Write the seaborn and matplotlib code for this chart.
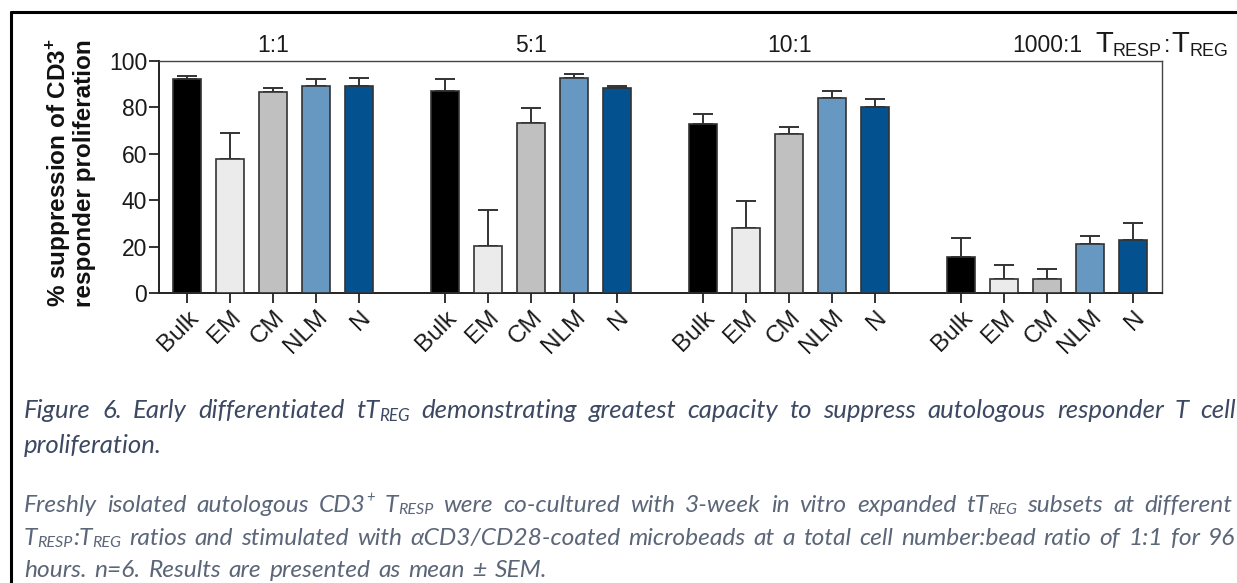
import matplotlib
matplotlib.use("Agg")
import matplotlib.pyplot as plt
from matplotlib.lines import Line2D
import numpy as np
import pandas as pd
import seaborn as sns

# ---- data -----------------------------------------------------------------
ratios = ["1:1", "5:1", "10:1", "1000:1"]
subsets = ["Bulk", "EM", "CM", "NLM", "N"]
suppression_1_1 = [92.2, 57.6, 86.5, 89.2, 89.2]
suppression_5_1 = [87.2, 20.1, 73.1, 92.5, 88.4]
suppression_10_1 = [72.8, 27.9, 68.4, 83.9, 80.2]
suppression_1000_1 = [15.6, 6.0, 6.2, 21.1, 22.8]
sem_1_1 = [1.5, 11.2, 1.7, 2.9, 3.3]
sem_5_1 = [4.9, 15.7, 6.8, 2.0, 1.0]
sem_10_1 = [4.5, 11.8, 3.2, 3.3, 3.3]
sem_1000_1 = [8.0, 5.9, 4.0, 3.6, 7.2]
y_ticks = [0, 20, 40, 60, 80, 100]

subset_colors = {"Bulk": "#000000", "EM": "#EBEBEB", "CM": "#C0C0C0",
                 "NLM": "#6798C1", "N": "#03528F"}

means = [suppression_1_1, suppression_5_1, suppression_10_1, suppression_1000_1]
sems = [sem_1_1, sem_5_1, sem_10_1, sem_1000_1]

rows = []
for g, ratio in enumerate(ratios):
    for i, name in enumerate(subsets):
        rows.append({"ratio": ratio, "subset": name, "pos": g * 6 + i,
                     "value": means[g][i], "sem": sems[g][i]})
df = pd.DataFrame(rows)

# ---- figure ---------------------------------------------------------------
W, H = 1237, 583
sns.set_style("ticks")
plt.rcParams["font.family"] = ["Liberation Sans", "DejaVu Sans"]
plt.rcParams["mathtext.fontset"] = "custom"
plt.rcParams["mathtext.rm"] = "Liberation Sans"
plt.rcParams["mathtext.bf"] = "Liberation Sans:bold"

fig = plt.figure(figsize=(W / 100, H / 100), dpi=100)
fig.patch.set_facecolor("white")
ax = fig.add_axes([159 / W, 1 - 293 / H, (1162 - 159) / W, (293 - 61) / H])

sns.barplot(data=df, x="pos", y="value", hue="subset", palette=subset_colors,
            native_scale=True, dodge=False, width=0.65, errorbar=None,
            saturation=1, edgecolor="#333333", linewidth=1.2, legend=False,
            ax=ax, zorder=3)
ax.errorbar(df["pos"], df["value"], yerr=[np.zeros(len(df)), df["sem"]],
            fmt="none", ecolor="#333333", elinewidth=1.4, capsize=7,
            capthick=1.4, zorder=2)

tick_size = 16.5
ax.set_xlim(-0.65, 22.67)
ax.set_ylim(0, 100)
ax.set_yticks(y_ticks)
ax.set_yticklabels([str(t) for t in y_ticks], fontsize=tick_size, color="#1a1a1a")
ax.set_xticks(df["pos"])
ax.set_xticklabels(df["subset"], fontsize=17.5, color="#1a1a1a", rotation=45,
                   ha="right", rotation_mode="anchor")
ax.set_xlabel("")
ax.set_ylabel("")
ax.tick_params(axis="both", length=7.5, width=1.3, color="#222222")
ax.tick_params(axis="y", pad=1)
ax.tick_params(axis="x", pad=2)
for side in ("left", "bottom"):
    ax.spines[side].set_color("#222222")
    ax.spines[side].set_linewidth(1.4)
for side in ("top", "right"):
    ax.spines[side].set_visible(True)
    ax.spines[side].set_color("#444444")
    ax.spines[side].set_linewidth(1.0)

# group headers above the panel
for g, ratio in enumerate(ratios):
    ax.text(g * 6 + 2, 103.8, ratio, ha="center", va="baseline",
            fontsize=tick_size, color="#1a1a1a", transform=ax.transData,
            clip_on=False)

# y label
fig.text(70 / W, 1 - 173 / H,
         "% suppression of CD3$^{\\mathbf{+}}$\nresponder proliferation",
         rotation=90, ha="center", va="center", fontsize=17.5,
         fontweight="bold", linespacing=1.0, color="#111111")

# ---- text helpers -----------------------------------------------------------
renderer = fig.canvas.get_renderer()


def build(words, size, style):
    """Create the text runs of each word; dy is given in em."""
    placed, widths = [], []
    px = size * 100 / 72
    for word in words:
        segs, wsum = [], 0.0
        for text, scale, dy in word:
            t = fig.text(0, 0, text, fontsize=size * scale, va="baseline", **style)
            w = t.get_window_extent(renderer).width
            segs.append((t, w, dy * px))
            wsum += w
        placed.append(segs)
        widths.append(wsum)
    return placed, widths


def fit_size(words, target, style, base=14.0, space_em=0.27):
    placed, widths = build(words, base, style)
    for segs in placed:
        for t, _, _ in segs:
            t.remove()
    natural = sum(widths) + (len(words) - 1) * space_em * base * 100 / 72
    return base * target / natural


def draw_line(words, x0, y0, size, style, width=None, space_em=0.27):
    placed, widths = build(words, size, style)
    if width is not None and len(words) > 1:
        gap = (width - sum(widths)) / (len(words) - 1)
    else:
        gap = space_em * size * 100 / 72
    x = x0
    for segs, wsum in zip(placed, widths):
        xs = x
        for t, w, dy in segs:
            t.set_position((xs / W, 1 - (y0 + dy) / H))
            xs += w
        x += wsum + gap


def plain(sentence):
    return [[(w, 1.0, 0)] for w in sentence.split()]


# ratio axis title: T_RESP : T_REG
chart_style = dict(color="#1a1a1a")
draw_line([[("T", 1.27, 0), ("RESP", 0.78, 0.17)], [(":", 1.0, 0)],
           [("T", 1.27, 0), ("REG", 0.78, 0.17)]],
          1095, 52, tick_size, chart_style, space_em=0.08)

# ---- caption ------------------------------------------------------------------
title_style = dict(family=["Lato", "DejaVu Sans"], style="italic", color="#3d4963")
body_style = dict(family=["Lato", "DejaVu Sans"], style="italic", color="#5c6679")
sub = 0.66
sub_dy = 0.1

title1 = (plain("Figure 6. Early differentiated")
          + [[("tT", 1.0, 0), ("REG", sub, sub_dy)]]
          + plain("demonstrating greatest capacity to suppress autologous responder T cell"))
title_size = fit_size(title1, 1212, title_style, space_em=0.42)
draw_line(title1, 24, 418, title_size, title_style, width=1212)
draw_line(plain("proliferation."), 24, 453, title_size, title_style)

body1 = (plain("Freshly isolated autologous")
         + [[("CD3", 1.0, 0), ("+", 0.6, -0.38)], [("T", 1.0, 0), ("RESP", sub, sub_dy)]]
         + plain("were co-cultured with 3-week in vitro expanded")
         + [[("tT", 1.0, 0), ("REG", sub, sub_dy)]]
         + plain("subsets at different"))
body2 = ([[("T", 1.0, 0), ("RESP", sub, sub_dy), (":", 1.0, 0), ("T", 1.0, 0),
           ("REG", sub, sub_dy)]]
         + plain("ratios and stimulated with")
         + [[("\u03b1CD3/CD28-coated", 1.0, 0)]]
         + plain("microbeads at a total cell number:bead ratio of 1:1 for 96"))
body_size = min(fit_size(body1, 1208, body_style, space_em=0.32),
                fit_size(body2, 1211, body_style, space_em=0.32))
draw_line(body1, 24, 512, body_size, body_style, width=1208)
draw_line(body2, 24, 545, body_size, body_style, width=1211)
draw_line(plain("hours. n=6. Results are presented as mean \u00b1 SEM."),
          24, 577, body_size, body_style, space_em=0.32)

# frame around the figure panel
fig.add_artist(Line2D([11 / W, 11 / W], [0, 1 - 12 / H], transform=fig.transFigure,
                      color="black", lw=2.2))
fig.add_artist(Line2D([11 / W, 1], [1 - 12 / H, 1 - 12 / H], transform=fig.transFigure,
                      color="black", lw=2.2))

fig.savefig("out.png", dpi=100, facecolor="white")
